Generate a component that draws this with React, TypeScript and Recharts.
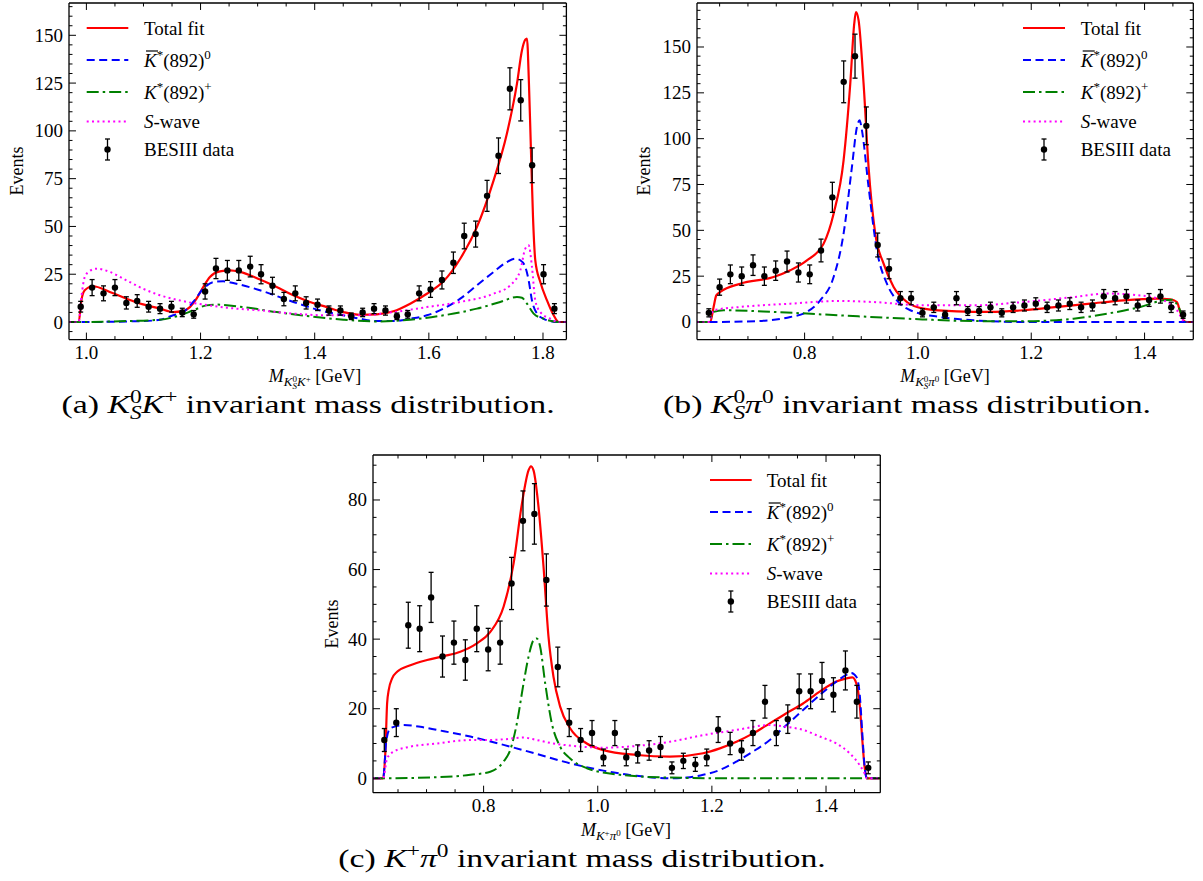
import React from "react";
import { ComposedChart, Line, Scatter, ErrorBar, XAxis, YAxis } from "recharts";

type Pt = [number, number];

const FONT = '"Liberation Serif", "DejaVu Serif", "Noto Serif", serif';
const INK = "#000";
const RED = "#ff0000";
const BLUE = "#0000ff";
const GREEN = "#008000";
const MAGENTA = "#ff00ff";

// ---------- (a) K_S^0 K^+ ----------
const aMass = [0.990, 1.010, 1.030, 1.050, 1.070, 1.089, 1.109, 1.129, 1.149, 1.168, 1.188, 1.208, 1.227, 1.247, 1.267, 1.287, 1.306, 1.326, 1.346, 1.366, 1.385, 1.405, 1.425, 1.445, 1.464, 1.484, 1.504, 1.524, 1.544, 1.563, 1.583, 1.603, 1.623, 1.643, 1.662, 1.682, 1.702, 1.722, 1.742, 1.761, 1.781, 1.801, 1.820];
const aEvents = [8, 18, 15, 18, 10, 11, 8, 7, 8, 5, 4, 16, 28, 27, 27, 29, 25, 19, 12, 15, 10, 9, 6, 6, 3, 5, 7, 6, 3, 4, 15, 17, 22, 31, 45, 46, 66, 87, 122, 116, 82, 25, 7];
const aErr = [2.8, 4.2, 3.9, 4.2, 3.2, 3.3, 2.8, 2.6, 2.8, 2.2, 2.0, 4.0, 5.3, 5.2, 5.2, 5.4, 5.0, 4.4, 3.5, 3.9, 3.2, 3.0, 2.4, 2.4, 1.7, 2.2, 2.6, 2.4, 1.7, 2.0, 3.9, 4.1, 4.7, 5.6, 6.7, 6.8, 8.1, 9.3, 11.0, 10.8, 9.1, 5.0, 2.6];
const aTotal: Pt[] = [[0.9695, 0], [0.9865, 0], [0.9912, 11.3], [0.9971, 16.6], [1.0117, 18.7], [1.0409, 15.7], [1.0702, 12.2], [1.0994, 9.2], [1.1287, 7.0], [1.152, 5.2], [1.1696, 5.8], [1.1813, 7.8], [1.193, 12.2], [1.2047, 18.3], [1.2164, 23.5], [1.2339, 26.5], [1.2515, 27.0], [1.269, 26.2], [1.3041, 22.2], [1.3333, 18.3], [1.3626, 14.0], [1.3918, 10.5], [1.4211, 7.8], [1.4503, 5.2], [1.4795, 3.8], [1.5088, 4.0], [1.538, 5.6], [1.5673, 9.6], [1.5965, 14.8], [1.6257, 21.3], [1.655, 33.1], [1.6842, 49.7], [1.7135, 74.1], [1.7368, 98.6], [1.7544, 124.7], [1.7632, 142.2], [1.769, 147.7], [1.7719, 148.3], [1.7754, 124.7], [1.7789, 89.8], [1.7825, 54.9], [1.7865, 32.3], [1.7953, 20.9], [1.807, 11.3], [1.8187, 3.5], [1.8275, 0], [1.841, 0]];
const aKbar0: Pt[] = [[0.9695, 0], [0.9865, 0], [1.0994, 0.5], [1.1287, 1.2], [1.152, 3.5], [1.1696, 5.2], [1.1871, 10.5], [1.2047, 17.4], [1.2222, 20.9], [1.2398, 21.3], [1.2573, 20.4], [1.3041, 16.6], [1.3626, 10.5], [1.4211, 5.2], [1.4503, 3.5], [1.4795, 1.7], [1.5088, 0.5], [1.538, 0.5], [1.5673, 1.7], [1.5965, 3.5], [1.6257, 7.0], [1.655, 12.2], [1.6842, 19.2], [1.7135, 26.2], [1.7368, 31.4], [1.7515, 33.1], [1.7602, 32.3], [1.769, 28.8], [1.7749, 21.8], [1.7807, 11.3], [1.7895, 4.4], [1.8012, 1.7], [1.8129, 0.5], [1.8275, 0], [1.841, 0]];
const aKplus: Pt[] = [[0.9695, 0], [0.9865, 0], [1.0702, 0.5], [1.1287, 1.2], [1.1637, 3.5], [1.1871, 6.1], [1.2105, 8.7], [1.2281, 9.1], [1.2749, 7.8], [1.3333, 5.2], [1.3918, 3.0], [1.4503, 1.2], [1.5088, 0.3], [1.5673, 1.2], [1.6257, 3.5], [1.6842, 7.0], [1.7251, 10.5], [1.7544, 13.1], [1.7632, 12.7], [1.7719, 9.6], [1.7836, 4.4], [1.8012, 1.7], [1.8275, 0], [1.841, 0]];
const aSwave: Pt[] = [[0.9695, 0], [0.9865, 0], [0.9912, 13.1], [0.9971, 23.5], [1.0058, 26.7], [1.0175, 27.9], [1.0409, 26.2], [1.0702, 21.8], [1.0994, 17.4], [1.1287, 14.0], [1.1579, 11.7], [1.1871, 9.9], [1.2164, 8.7], [1.2456, 7.5], [1.3041, 6.1], [1.3626, 4.4], [1.4211, 3.5], [1.4795, 3.5], [1.538, 5.2], [1.5965, 7.8], [1.655, 10.5], [1.7135, 14.8], [1.7427, 19.2], [1.7602, 27.0], [1.769, 38.4], [1.7749, 40.1], [1.7807, 28.8], [1.7865, 11.3], [1.7953, 5.2], [1.8129, 1.7], [1.8275, 0], [1.841, 0]];

// ---------- (b) K_S^0 pi^0 ----------
const bMass = [0.631, 0.650, 0.669, 0.689, 0.709, 0.729, 0.749, 0.769, 0.789, 0.809, 0.829, 0.849, 0.869, 0.889, 0.909, 0.929, 0.949, 0.969, 0.988, 1.008, 1.028, 1.048, 1.068, 1.088, 1.108, 1.128, 1.148, 1.168, 1.188, 1.208, 1.228, 1.248, 1.268, 1.288, 1.308, 1.328, 1.348, 1.368, 1.388, 1.408, 1.428, 1.447, 1.468];
const bEvents = [5, 19, 26, 25, 31, 25, 28, 33, 27, 26, 39, 68, 131, 145, 107, 42, 29, 13, 13, 5, 8, 4, 13, 6, 6, 8, 5, 8, 9, 10, 8, 9, 10, 8, 9, 14, 13, 14, 9, 12, 14, 8, 4];
const bErr = [2.2, 4.4, 5.1, 5.0, 5.6, 5.0, 5.3, 5.7, 5.2, 5.1, 6.2, 8.2, 11.4, 12.0, 10.3, 6.5, 5.4, 3.6, 3.6, 2.2, 2.8, 2.0, 3.6, 2.4, 2.4, 2.8, 2.2, 2.8, 3.0, 3.2, 2.8, 3.0, 3.2, 2.8, 3.0, 3.7, 3.6, 3.7, 3.0, 3.5, 3.7, 2.8, 2.0];
const bTotal: Pt[] = [[0.6101, 0], [0.6335, 0], [0.6394, 8.2], [0.6441, 14.5], [0.6512, 16.4], [0.6865, 20.9], [0.7453, 24.5], [0.7747, 28.2], [0.8041, 33.6], [0.8335, 42.7], [0.8512, 59.1], [0.8688, 88.2], [0.8806, 130], [0.8876, 162.7], [0.8906, 169.1], [0.8953, 164.5], [0.9041, 130], [0.9129, 84.5], [0.9247, 48.2], [0.9394, 31.8], [0.9571, 19.1], [0.9806, 10.9], [1.01, 7.3], [1.0688, 5.8], [1.1276, 5.5], [1.1865, 6.4], [1.2453, 8.2], [1.3041, 10.0], [1.3629, 11.8], [1.4218, 12.7], [1.4453, 12.4], [1.4571, 10.9], [1.4629, 5.5], [1.47, 0.4], [1.4747, 0], [1.486, 0]];
const bKbar0: Pt[] = [[0.6101, 0], [0.6306, 0], [0.7159, 0.5], [0.7747, 2.7], [0.8041, 5.5], [0.8276, 11.8], [0.8512, 24.5], [0.8688, 48.2], [0.8835, 84.5], [0.8924, 106.4], [0.8971, 110], [0.9012, 104.5], [0.9129, 73.6], [0.9276, 39.1], [0.9453, 20.9], [0.9629, 11.8], [0.9865, 6.4], [1.0394, 2.7], [1.0982, 0.9], [1.1865, 0], [1.486, 0]];
const bKplus: Pt[] = [[0.6101, 0], [0.6306, 0], [0.6394, 5.5], [0.657, 6.4], [0.7453, 5.5], [0.8629, 3.6], [0.9806, 1.8], [1.0982, 0.5], [1.1865, 0.4], [1.2747, 1.8], [1.3335, 4.5], [1.3924, 8.2], [1.4335, 11.8], [1.4482, 12.2], [1.46, 8.2], [1.4718, 0], [1.486, 0]];
const bSwave: Pt[] = [[0.6101, 0], [0.6306, 0], [0.6394, 6.4], [0.6865, 8.2], [0.7747, 10.0], [0.8629, 11.5], [0.9218, 10.9], [1.01, 9.1], [1.0982, 9.1], [1.1865, 10.9], [1.2747, 13.6], [1.3335, 15.5], [1.3924, 14.5], [1.4335, 11.8], [1.4571, 6.4], [1.4718, 0], [1.486, 0]];

// ---------- (c) K^+ pi^0 ----------
const cMass = [0.626, 0.647, 0.668, 0.688, 0.708, 0.728, 0.748, 0.768, 0.788, 0.808, 0.829, 0.849, 0.869, 0.889, 0.910, 0.930, 0.950, 0.970, 0.990, 1.010, 1.030, 1.050, 1.070, 1.090, 1.110, 1.130, 1.150, 1.171, 1.191, 1.211, 1.232, 1.252, 1.272, 1.293, 1.313, 1.333, 1.353, 1.373, 1.393, 1.413, 1.434, 1.454, 1.474];
const cEvents = [11, 16, 44, 43, 52, 35, 39, 34, 43, 37, 39, 56, 74, 76, 57, 32, 16, 11, 13, 6, 13, 6, 7, 8, 9, 3, 5, 4, 6, 14, 10, 8, 13, 22, 13, 17, 25, 25, 28, 24, 31, 22, 3];
const cErr = [3.3, 4.0, 6.6, 6.6, 7.2, 5.9, 6.2, 5.8, 6.6, 6.1, 6.2, 7.5, 8.6, 8.7, 7.5, 5.7, 4.0, 3.3, 3.6, 2.4, 3.6, 2.4, 2.6, 2.8, 3.0, 1.7, 2.2, 2.0, 2.4, 3.7, 3.2, 2.8, 3.6, 4.7, 3.6, 4.1, 5.0, 5.0, 5.3, 4.9, 5.6, 4.7, 1.7];
const cTotal: Pt[] = [[0.6062, 0], [0.6239, 0], [0.628, 8.1], [0.6309, 21.5], [0.6338, 25.4], [0.6397, 28.7], [0.6484, 30.6], [0.6717, 32.5], [0.7009, 34.0], [0.73, 35.1], [0.7592, 36.4], [0.7883, 38.8], [0.8117, 42.1], [0.835, 49.3], [0.8525, 61.7], [0.8671, 78.9], [0.8787, 88.5], [0.8828, 89.7], [0.8875, 88.5], [0.8962, 78.0], [0.905, 60.8], [0.9137, 40.7], [0.9224, 29.2], [0.9341, 20.6], [0.9516, 14.4], [0.9808, 10.0], [1.0099, 8.1], [1.0682, 6.7], [1.1265, 6.2], [1.1848, 7.2], [1.214, 8.6], [1.2431, 10.5], [1.2723, 12.9], [1.3015, 15.8], [1.3306, 18.7], [1.3598, 21.5], [1.3889, 24.9], [1.4181, 27.8], [1.4356, 28.7], [1.4461, 29.0], [1.4531, 27.3], [1.4589, 21.5], [1.4636, 11.0], [1.4676, 3.3], [1.4717, 0], [1.4951, 0]];
const cKbar0: Pt[] = [[0.6062, 0], [0.6239, 0], [0.6297, 11.0], [0.6367, 14.4], [0.6601, 15.3], [0.6892, 14.8], [0.7184, 13.9], [0.7767, 12.0], [0.835, 9.6], [0.8933, 7.0], [0.9516, 4.3], [1.0099, 2.2], [1.0682, 0.7], [1.1265, 0], [1.1557, 0.2], [1.1848, 1.0], [1.214, 2.4], [1.2431, 4.8], [1.2723, 7.7], [1.3015, 11.0], [1.3306, 15.3], [1.3598, 19.6], [1.3889, 23.9], [1.4181, 27.8], [1.4356, 29.7], [1.4443, 30.3], [1.4531, 29.2], [1.4589, 24.4], [1.4636, 12.9], [1.4676, 3.3], [1.4717, 0], [1.4951, 0]];
const cKplus: Pt[] = [[0.6062, 0], [0.6239, 0], [0.7184, 0.3], [0.7767, 1.0], [0.8117, 1.9], [0.835, 4.8], [0.8466, 8.1], [0.8583, 15.8], [0.87, 27.3], [0.8787, 34.9], [0.8875, 39.7], [0.8933, 40.2], [0.8991, 37.8], [0.9079, 27.3], [0.9195, 15.8], [0.9341, 9.1], [0.9516, 5.7], [0.9808, 2.9], [1.0391, 1.0], [1.1265, 0.2], [1.2431, 0], [1.4951, 0]];
const cSwave: Pt[] = [[0.6062, 0], [0.6239, 0], [0.6309, 5.7], [0.6426, 7.7], [0.6717, 9.1], [0.7184, 10.0], [0.7767, 11.0], [0.8058, 11.0], [0.835, 11.2], [0.87, 11.7], [0.8933, 11.0], [0.9224, 10.0], [0.9516, 9.4], [1.0099, 8.8], [1.0682, 9.3], [1.1265, 10.5], [1.1848, 12.4], [1.2431, 13.9], [1.3015, 15.3], [1.3306, 14.8], [1.3598, 13.9], [1.3889, 12.0], [1.4181, 10.0], [1.4414, 7.2], [1.4589, 3.8], [1.4676, 1.4], [1.4717, 0], [1.4951, 0]];

// tick labels
const aXMajor = [1.0, 1.2, 1.4, 1.6, 1.8];
const aYMajor = [0, 25, 50, 75, 100, 125, 150];
const bXMajor = [0.8, 1.0, 1.2, 1.4];
const bYMajor = [0, 25, 50, 75, 100, 125, 150];
const cXMajor = [0.8, 1.0, 1.2, 1.4];
const cYMajor = [0, 20, 40, 60, 80];

const steps = (from: number, to: number, step: number) => {
  const out: number[] = [];
  for (let v = from; v <= to + 1e-9; v += step) out.push(Math.round(v * 1000) / 1000);
  return out;
};

const isMajor = (v: number, majors: number[]) => majors.some((m) => Math.abs(m - v) < 1e-6);
const rows = (pts: Pt[]) => pts.map(([x, y]) => ({ x, y }));

const MAJ = 7;
const MIN = 3.5;
const TICK_FS = 19;
const serif = { fontFamily: FONT };

function bottomTick(majors: number[]) {
  return (p: any) => {
    const major = isMajor(p.payload.value, majors);
    return (
      <g>
        <line x1={p.x} x2={p.x} y1={p.y} y2={p.y - (major ? MAJ : MIN)} stroke={INK} strokeWidth={1} />
        {major && (
          <text x={p.x} y={p.y + 13} textAnchor="middle" dominantBaseline="central" style={serif} fontSize={TICK_FS} fill={INK}>
            {p.payload.value.toFixed(1)}
          </text>
        )}
      </g>
    );
  };
}

function topTick(majors: number[]) {
  return (p: any) => {
    const major = isMajor(p.payload.value, majors);
    return <line x1={p.x} x2={p.x} y1={p.y} y2={p.y + (major ? MAJ : MIN)} stroke={INK} strokeWidth={1} />;
  };
}

function leftTick(majors: number[]) {
  return (p: any) => {
    const major = isMajor(p.payload.value, majors);
    return (
      <g>
        <line x1={p.x} x2={p.x + (major ? MAJ : MIN)} y1={p.y} y2={p.y} stroke={INK} strokeWidth={1} />
        {major && (
          <text x={p.x - 6} y={p.y} textAnchor="end" dominantBaseline="central" style={serif} fontSize={TICK_FS} fill={INK}>
            {String(p.payload.value)}
          </text>
        )}
      </g>
    );
  };
}

function rightTick(majors: number[]) {
  return (p: any) => {
    const major = isMajor(p.payload.value, majors);
    return <line x1={p.x} x2={p.x - (major ? MAJ : MIN)} y1={p.y} y2={p.y} stroke={INK} strokeWidth={1} />;
  };
}

interface PanelDef {
  frame: { x0: number; y0: number; x1: number; y1: number };
  xDomain: [number, number];
  yDomain: [number, number];
  xMajor: number[];
  xTicks: number[];
  yMajor: number[];
  yTicks: number[];
  mass: number[];
  events: number[];
  err: number[];
  total: Pt[];
  kbar0: Pt[];
  kplus: Pt[];
  swave: Pt[];
}

const YW = 70;
const XH = 40;
const MT = 4;
const MR = 4;
const MB = 4;
const FRAME = { stroke: INK, strokeWidth: 1.3 };

function Panel({ d }: { d: PanelDef }) {
  const { x0, y0, x1, y1 } = d.frame;
  const W = x1 - x0 + YW + 1 + MR;
  const H = y1 - y0 + MT + 1 + XH + MB;
  const pts = d.mass.map((x, i) => ({ x, y: d.events[i], err: d.err[i] }));
  const common = { type: "monotone" as const, dot: false, activeDot: false, isAnimationActive: false, dataKey: "y", xAxisId: "b", yAxisId: "l" };
  return (
    <div style={{ position: "absolute", left: x0 - YW, top: y0 - MT - 1 }}>
      <ComposedChart width={W} height={H} margin={{ top: MT, right: MR, bottom: MB, left: 0 }}>
        <XAxis xAxisId="b" dataKey="x" type="number" scale="linear" domain={d.xDomain} allowDataOverflow ticks={d.xTicks} interval={0}
          tickSize={0} tickMargin={0} tickLine={false} axisLine={FRAME} tick={bottomTick(d.xMajor)} height={XH} />
        <XAxis xAxisId="t" orientation="top" dataKey="x" type="number" scale="linear" domain={d.xDomain} allowDataOverflow ticks={d.xTicks} interval={0}
          tickSize={0} tickMargin={0} tickLine={false} axisLine={FRAME} tick={topTick(d.xMajor)} height={1} />
        <YAxis yAxisId="l" type="number" scale="linear" domain={d.yDomain} allowDataOverflow ticks={d.yTicks} interval={0}
          tickSize={0} tickMargin={0} tickLine={false} axisLine={FRAME} tick={leftTick(d.yMajor)} width={YW} />
        <YAxis yAxisId="r" orientation="right" type="number" scale="linear" domain={d.yDomain} allowDataOverflow ticks={d.yTicks} interval={0}
          tickSize={0} tickMargin={0} tickLine={false} axisLine={FRAME} tick={rightTick(d.yMajor)} width={1} />
        <Line {...common} data={rows(d.total)} stroke={RED} strokeWidth={2.2} />
        <Line {...common} data={rows(d.kbar0)} stroke={BLUE} strokeWidth={2} strokeDasharray="8 4.5" />
        <Line {...common} data={rows(d.kplus)} stroke={GREEN} strokeWidth={2} strokeDasharray="12 4 2.5 4" />
        <Line {...common} data={rows(d.swave)} stroke={MAGENTA} strokeWidth={2} strokeDasharray="2 3.3" />
        <Scatter xAxisId="b" yAxisId="l" data={pts} dataKey="y" isAnimationActive={false}
          shape={(p: any) => <circle cx={p.cx} cy={p.cy} r={3.2} fill={INK} />}>
          <ErrorBar dataKey="err" direction="y" width={2.5} stroke={INK} strokeWidth={1.3} />
        </Scatter>
        <Line xAxisId="t" yAxisId="r" data={pts} dataKey="y" stroke="none" dot={false} activeDot={false} isAnimationActive={false} />
      </ComposedChart>
    </div>
  );
}

const panels: PanelDef[] = [
  {
    frame: { x0: 69.3, y0: 2.7, x1: 566.7, y1: 339.3 },
    xDomain: [0.9695, 1.841], yDomain: [-9.2, 166.9],
    xMajor: aXMajor, xTicks: steps(1.0, 1.8, 0.05), yMajor: aYMajor, yTicks: steps(-5, 165, 5),
    mass: aMass, events: aEvents, err: aErr, total: aTotal, kbar0: aKbar0, kplus: aKplus, swave: aSwave,
  },
  {
    frame: { x0: 696.7, y0: 2.7, x1: 1193, y1: 339.3 },
    xDomain: [0.6101, 1.486], yDomain: [-9.6, 174],
    xMajor: bXMajor, xTicks: steps(0.65, 1.45, 0.05), yMajor: bYMajor, yTicks: steps(-5, 170, 5),
    mass: bMass, events: bEvents, err: bErr, total: bTotal, kbar0: bKbar0, kplus: bKplus, swave: bSwave,
  },
  {
    frame: { x0: 372.7, y0: 455, x1: 880, y1: 792.7 },
    xDomain: [0.6062, 1.4951], yDomain: [-4.14, 92.93],
    xMajor: cXMajor, xTicks: steps(0.65, 1.45, 0.05), yMajor: cYMajor, yTicks: steps(0, 90, 5),
    mass: cMass, events: cEvents, err: cErr, total: cTotal, kbar0: cKbar0, kplus: cKplus, swave: cSwave,
  },
];

const ROWS = [0, 32, 64, 93.5, 121.5];
const LEG_FS = 19;

function Legend({ x0, x1, tx, y0 }: { x0: number; x1: number; tx: number; y0: number }) {
  const r = ROWS.map((o) => y0 + o);
  const mx = (x0 + x1) / 2;
  const b = 6.5;
  return (
    <g fontSize={LEG_FS} fill={INK}>
      <line x1={x0} x2={x1} y1={r[0]} y2={r[0]} stroke={RED} strokeWidth={2.2} />
      <line x1={x0} x2={x1} y1={r[1]} y2={r[1]} stroke={BLUE} strokeWidth={2} strokeDasharray="8 4.5" />
      <line x1={x0} x2={x1} y1={r[2]} y2={r[2]} stroke={GREEN} strokeWidth={2} strokeDasharray="12 4 2.5 4" />
      <line x1={x0} x2={x1} y1={r[3]} y2={r[3]} stroke={MAGENTA} strokeWidth={2} strokeDasharray="2 3.3" />
      <line x1={mx} x2={mx} y1={r[4] - 10.5} y2={r[4] + 10.5} stroke={INK} strokeWidth={1.3} />
      <line x1={mx - 2.5} x2={mx + 2.5} y1={r[4] - 10.5} y2={r[4] - 10.5} stroke={INK} strokeWidth={1.3} />
      <line x1={mx - 2.5} x2={mx + 2.5} y1={r[4] + 10.5} y2={r[4] + 10.5} stroke={INK} strokeWidth={1.3} />
      <circle cx={mx} cy={r[4]} r={3.2} fill={INK} />
      <text x={tx} y={r[0] + b}>Total fit</text>
      <text x={tx} y={r[1] + b}>
        <tspan fontStyle="italic">K</tspan>
        <tspan dy={-8} fontSize={13}>*</tspan>
        <tspan dy={8}>(892)</tspan>
        <tspan dy={-8} fontSize={13}>0</tspan>
      </text>
      <line x1={tx + 2} x2={tx + 14} y1={r[1] - 9} y2={r[1] - 9} stroke={INK} strokeWidth={1.2} />
      <text x={tx} y={r[2] + b}>
        <tspan fontStyle="italic">K</tspan>
        <tspan dy={-8} fontSize={13}>*</tspan>
        <tspan dy={8}>(892)</tspan>
        <tspan dy={-8} fontSize={13}>+</tspan>
      </text>
      <text x={tx} y={r[3] + b}>
        <tspan fontStyle="italic">S</tspan>
        <tspan>-wave</tspan>
      </text>
      <text x={tx} y={r[4] + b}>BESIII data</text>
    </g>
  );
}

const CAP_FS = 26;
const CAP_SX = 1.3;

function Overlay() {
  const events = (x: number, y: number) => (
    <text transform={`translate(${x},${y}) rotate(-90)`} textAnchor="middle" dominantBaseline="central" fontSize={18}>Events</text>
  );
  const cap = (cx: number, by: number) => `translate(${cx},${by}) scale(${CAP_SX},1)`;
  return (
    <svg width={1203} height={881} style={{ position: "absolute", left: 0, top: 0, pointerEvents: "none", fontFamily: FONT }} fill={INK}>
      {events(17, 171)}
      {events(644, 171)}
      {events(332, 624)}

      <text x={315} y={382} textAnchor="middle" fontSize={18}>
        <tspan fontStyle="italic">M</tspan>
        <tspan dy={4} fontSize={13} fontStyle="italic">K</tspan>
        <tspan dy={-4.5} fontSize={9}>0</tspan>
        <tspan dx={-4.5} dy={7.5} fontSize={9} fontStyle="italic">S</tspan>
        <tspan dy={-3} fontSize={13} fontStyle="italic">K</tspan>
        <tspan dy={-4} fontSize={9}>+</tspan>
        <tspan> [GeV]</tspan>
      </text>
      <text x={945} y={382} textAnchor="middle" fontSize={18}>
        <tspan fontStyle="italic">M</tspan>
        <tspan dy={4} fontSize={13} fontStyle="italic">K</tspan>
        <tspan dy={-4.5} fontSize={9}>0</tspan>
        <tspan dx={-4.5} dy={7.5} fontSize={9} fontStyle="italic">S</tspan>
        <tspan dy={-3} fontSize={13} fontStyle="italic">π</tspan>
        <tspan dy={-4} fontSize={9}>0</tspan>
        <tspan> [GeV]</tspan>
      </text>
      <text x={626} y={836} textAnchor="middle" fontSize={18}>
        <tspan fontStyle="italic">M</tspan>
        <tspan dy={4} fontSize={13} fontStyle="italic">K</tspan>
        <tspan dy={-4} fontSize={9}>+</tspan>
        <tspan dy={4} fontSize={13} fontStyle="italic">π</tspan>
        <tspan dy={-4} fontSize={9}>0</tspan>
        <tspan> [GeV]</tspan>
      </text>

      <text transform={cap(308, 413)} textAnchor="middle" fontSize={CAP_FS}>
        <tspan>(a) </tspan>
        <tspan fontStyle="italic">K</tspan>
        <tspan dy={-10} fontSize={18}>0</tspan>
        <tspan dx={-9} dy={16} fontSize={18} fontStyle="italic">S</tspan>
        <tspan dy={-6} fontStyle="italic">K</tspan>
        <tspan dy={-10} fontSize={18}>+</tspan>
        <tspan dy={10}> invariant mass distribution.</tspan>
      </text>
      <text transform={cap(907, 413)} textAnchor="middle" fontSize={CAP_FS}>
        <tspan>(b) </tspan>
        <tspan fontStyle="italic">K</tspan>
        <tspan dy={-10} fontSize={18}>0</tspan>
        <tspan dx={-9} dy={16} fontSize={18} fontStyle="italic">S</tspan>
        <tspan dy={-6} fontStyle="italic">π</tspan>
        <tspan dy={-10} fontSize={18}>0</tspan>
        <tspan dy={10}> invariant mass distribution.</tspan>
      </text>
      <text transform={cap(582, 867)} textAnchor="middle" fontSize={CAP_FS}>
        <tspan>(c) </tspan>
        <tspan fontStyle="italic">K</tspan>
        <tspan dy={-10} fontSize={18}>+</tspan>
        <tspan dy={10} fontStyle="italic">π</tspan>
        <tspan dy={-10} fontSize={18}>0</tspan>
        <tspan dy={10}> invariant mass distribution.</tspan>
      </text>

      <Legend x0={86.7} x1={128.3} tx={144} y0={28} />
      <Legend x0={1023} x1={1065} tx={1080.7} y0={28} />
      <Legend x0={710} x1={751.7} tx={766.7} y0={480} />
    </svg>
  );
}

export default function App() {
  return (
    <div style={{ position: "absolute", left: 0, top: 0, width: 1203, height: 881, background: "#fff", overflow: "hidden", fontFamily: FONT }}>
      {panels.map((d, i) => (
        <Panel key={i} d={d} />
      ))}
      <Overlay />
    </div>
  );
}
